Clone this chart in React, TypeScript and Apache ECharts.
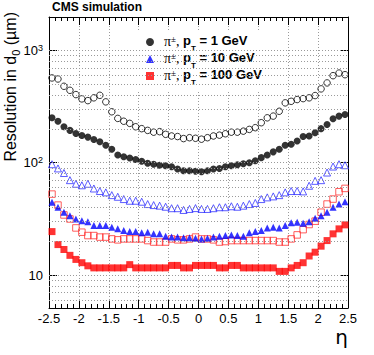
import React, { useEffect, useRef } from 'react';
import * as echarts from 'echarts';

const eta = [
  -2.45, -2.35, -2.25, -2.15, -2.05, -1.95, -1.85, -1.75, -1.65, -1.55,
  -1.45, -1.35, -1.25, -1.15, -1.05, -0.95, -0.85, -0.75, -0.65, -0.55,
  -0.45, -0.35, -0.25, -0.15, -0.05, 0.05, 0.15, 0.25, 0.35, 0.45,
  0.55, 0.65, 0.75, 0.85, 0.95, 1.05, 1.15, 1.25, 1.35, 1.45,
  1.55, 1.65, 1.75, 1.85, 1.95, 2.05, 2.15, 2.25, 2.35, 2.45,
];

// pT = 1 GeV
const pt1Open = [
  568, 556, 479, 441, 404, 370, 357, 378, 398, 348,
  284, 248, 234, 224, 209, 201, 194, 187, 189, 179,
  173, 171, 164, 167, 165, 162, 167, 173, 176, 181,
  187, 187, 191, 198, 205, 227, 251, 260, 287, 341,
  352, 365, 372, 378, 396, 454, 513, 595, 628, 607,
];
const pt1Filled = [
  251, 234, 209, 194, 182, 175, 169, 161, 154, 143,
  132, 117, 113, 110, 107, 103, 99, 97, 95, 94,
  92, 88, 85, 85, 84, 83, 85, 88, 89, 92,
  94, 96, 98, 100, 104, 111, 117, 125, 132, 143,
  146, 156, 171, 173, 185, 201, 219, 246, 260, 269,
];
// pT = 10 GeV
const pt10Open = [
  97, 89, 81, 70, 65, 63, 65, 59, 56, 54.5,
  51.5, 49.8, 47.5, 45.9, 45.9, 45, 42.9, 42, 41.5, 40.6,
  39.4, 39.4, 38, 38.8, 39.5, 38.8, 38.8, 39.4, 40.2, 40.2,
  41, 40.6, 41.5, 42.9, 43.9, 47.5, 49.2, 50.2, 51.5, 54.5,
  56, 56, 55.6, 62.4, 69, 70, 81.8, 92.5, 97, 95,
];
const pt10Filled = [
  44.5, 40.2, 36.3, 33.8, 31.6, 30.5, 29.9, 27.6, 27.6, 27.6,
  26.7, 25.8, 24.9, 24.4, 24.4, 23.8, 24.1, 23.3, 23.3, 22.2,
  21.8, 21.8, 21.5, 21.5, 21.3, 21.0, 21.3, 21.8, 22.2, 22.5,
  22.8, 22.5, 22.2, 23.8, 24.4, 24.9, 26.2, 26.7, 26.2, 27.6,
  29.2, 29.6, 29.0, 29.9, 32.1, 33.8, 36.3, 40.2, 42.9, 45,
];
// pT = 100 GeV
const pt100Open = [
  52.6, 42, 34.3, 31.6, 26.3, 24.1, 22.5, 22.5, 21.8, 21.8,
  21.0, 20.6, 21.0, 21.0, 21.0, 21.0, 20.3, 19.7, 19.7, 19.7,
  21.0, 20.6, 20.6, 21.0, 21.8, 21.0, 21.0, 20.6, 19.7, 19.9,
  20.3, 20.3, 20.3, 20.3, 20.3, 20.3, 20.3, 20.3, 19.7, 19.7,
  21.0, 22.8, 25.4, 28.2, 30.2, 36.3, 42.9, 47.5, 55.2, 59.1,
];
const pt100Filled = [
  24.4, 18.7, 16.9, 15.0, 13.8, 12.9, 12.1, 11.6, 11.6, 11.6,
  11.6, 11.6, 11.6, 12.4, 11.6, 11.6, 11.6, 11.6, 11.6, 11.6,
  12.2, 12.2, 11.6, 11.6, 12.2, 12.2, 12.2, 12.2, 11.6, 11.6,
  12.2, 12.2, 11.6, 11.6, 11.6, 11.6, 11.6, 11.6, 10.8, 10.8,
  11.6, 12.2, 12.9, 14.8, 16.0, 18.1, 20.3, 23.3, 25.8, 28,
];

const legendNames = ['pT = 1 GeV', 'pT = 10 GeV', 'pT = 100 GeV'];
const legendEnergies = ['1 GeV', '10 GeV', '100 GeV'];
const yGridValues = [
  6, 7, 8, 9, 10, 20, 30, 40, 50, 60, 70, 80, 90,
  100, 200, 300, 400, 500, 600, 700, 800, 900, 1000,
];
const yMin = 5.1;
const yMax = 1980;

const FONT = 'Liberation Sans';

export default function App() {
  const ref = useRef<HTMLDivElement>(null);
  useEffect(() => {
    const chart = echarts.init(ref.current!, null, { renderer: 'svg' });
    const pts = (vals: number[]) => vals.map((v, i) => [eta[i], v]);
    const gridLine = { type: [1, 2] as any, color: '#9a9a9a', width: 1 };
    const xAxisBase = {
      type: 'value',
      min: -2.5,
      max: 2.5,
      interval: 0.5,
      axisLine: { show: true, onZero: false, lineStyle: { color: '#000', width: 1 } },
      axisTick: { show: true, inside: true, length: 8, lineStyle: { color: '#000' } },
      minorTick: { show: true, splitNumber: 5, length: 4, lineStyle: { color: '#000' } },
    };
    const yAxisBase = {
      type: 'log',
      logBase: 10,
      min: yMin,
      max: yMax,
      axisLine: { show: true, onZero: false, lineStyle: { color: '#000', width: 1 } },
      axisTick: { show: true, inside: true, length: 8, lineStyle: { color: '#000' } },
      splitLine: { show: false },
    };
    const labelRich = {
      p: { fontFamily: 'Liberation Serif', fontSize: 14, color: '#000', lineHeight: 16, verticalAlign: 'top' },
      sup: { fontFamily: 'Liberation Serif', fontSize: 9, color: '#000', lineHeight: 9, verticalAlign: 'top' },
      b: { fontFamily: FONT, fontWeight: 'bold', fontSize: 13, color: '#000', lineHeight: 16, verticalAlign: 'top' },
      sub: { fontFamily: FONT, fontWeight: 'bold', fontSize: 8, color: '#000', lineHeight: 8, padding: [10, 0, 0, 0], verticalAlign: 'top' },
    };
    chart.setOption({
      animation: false,
      grid: { left: 49, right: 26, top: 17, bottom: 47, containLabel: false },
      xAxis: [
        {
          ...xAxisBase,
          position: 'bottom',
          axisLabel: {
            show: true,
            margin: 4,
            color: '#000',
            fontFamily: FONT,
            fontSize: 13,
            showMinLabel: true,
            showMaxLabel: true,
          },
          splitLine: { show: true, lineStyle: gridLine },
        },
        {
          ...xAxisBase,
          position: 'top',
          axisLabel: { show: false },
          splitLine: { show: false },
        },
      ],
      yAxis: [
        {
          ...yAxisBase,
          position: 'left',
          axisLabel: {
            show: true,
            margin: 6,
            color: '#000',
            formatter: (v: number) => {
              const e = Math.log10(v);
              const r = Math.round(e);
              if (Math.abs(e - r) > 1e-6) return '';
              if (r === 1) return '{b|10}';
              return '{b|10}{s|' + r + '}';
            },
            rich: {
              b: { fontFamily: FONT, fontSize: 13, color: '#000', lineHeight: 14 },
              s: { fontFamily: FONT, fontSize: 9, color: '#000', lineHeight: 9, verticalAlign: 'top' },
            },
          },
        },
        {
          ...yAxisBase,
          position: 'right',
          axisLabel: { show: false },
        },
      ],
      legend: {
        data: legendNames,
        orient: 'vertical',
        left: 132,
        top: 30,
        padding: [4, 12, 4, 14],
        backgroundColor: '#fff',
        itemWidth: 8,
        itemHeight: 8,
        itemGap: -1,
        textStyle: { padding: [0, 0, 0, 5], rich: labelRich },
        formatter: (name: string) => {
          const i = legendNames.indexOf(name);
          return '{p|π}{sup|±}{p|, }{b|p}{sub|T}{b| = ' + legendEnergies[i] + '}';
        },
      },
      graphic: [
        {
          type: 'text',
          left: 52,
          top: 1,
          style: { text: 'CMS simulation', font: 'bold 12px "Liberation Sans"', fill: '#000' },
        },
        {
          type: 'text',
          x: 11,
          y: 12,
          rotation: Math.PI / 2,
          style: {
            text: '{a|Resolution in d}{sub|0}{a| (µm)}',
            align: 'right',
            verticalAlign: 'middle',
            rich: {
              a: { fontFamily: FONT, fontSize: 16, fill: '#000', lineHeight: 18, verticalAlign: 'top' },
              sub: { fontFamily: FONT, fontSize: 11, fill: '#000', lineHeight: 11, padding: [8, 0, 0, 0], verticalAlign: 'top' },
            },
          },
        },
        {
          type: 'text',
          x: 348,
          y: 337,
          style: {
            text: 'η',
            align: 'right',
            verticalAlign: 'middle',
            font: '20px "DejaVu Sans"',
            lineHeight: 12,
            fill: '#000',
          },
        },
      ],
      series: [
        {
          name: 'gridlines',
          type: 'scatter',
          data: [],
          z: 1,
          silent: true,
          markLine: {
            silent: true,
            symbol: 'none',
            label: { show: false },
            lineStyle: gridLine,
            emphasis: { disabled: true },
            data: yGridValues.map((v) => ({ yAxis: v })),
          },
        },
        {
          name: 'open1',
          type: 'scatter',
          symbol: 'circle',
          symbolSize: 6.5,
          z: 3,
          itemStyle: { color: 'rgba(0,0,0,0)', borderColor: '#000', borderWidth: 1 },
          data: pts(pt1Open),
        },
        {
          name: 'open10',
          type: 'scatter',
          symbol: 'triangle',
          symbolSize: 7,
          z: 3,
          itemStyle: { color: 'rgba(0,0,0,0)', borderColor: '#3333ff', borderWidth: 1 },
          data: pts(pt10Open),
        },
        {
          name: 'open100',
          type: 'scatter',
          symbol: 'rect',
          symbolSize: 6.5,
          z: 3,
          itemStyle: { color: 'rgba(0,0,0,0)', borderColor: '#ff3333', borderWidth: 1 },
          data: pts(pt100Open),
        },
        {
          name: legendNames[0],
          type: 'scatter',
          symbol: 'circle',
          symbolSize: 7,
          z: 4,
          itemStyle: { color: '#000' },
          data: pts(pt1Filled),
        },
        {
          name: legendNames[1],
          type: 'scatter',
          symbol: 'triangle',
          symbolSize: 7,
          z: 4,
          itemStyle: { color: '#0000ff' },
          data: pts(pt10Filled),
        },
        {
          name: legendNames[2],
          type: 'scatter',
          symbol: 'rect',
          symbolSize: 7,
          z: 4,
          itemStyle: { color: '#ff0000' },
          data: pts(pt100Filled),
        },
      ],
    });
    return () => chart.dispose();
  }, []);
  return (
    <div
      ref={ref}
      style={{ position: 'absolute', left: 0, top: 0, width: 374, height: 355, background: '#fff' }}
    />
  );
}
